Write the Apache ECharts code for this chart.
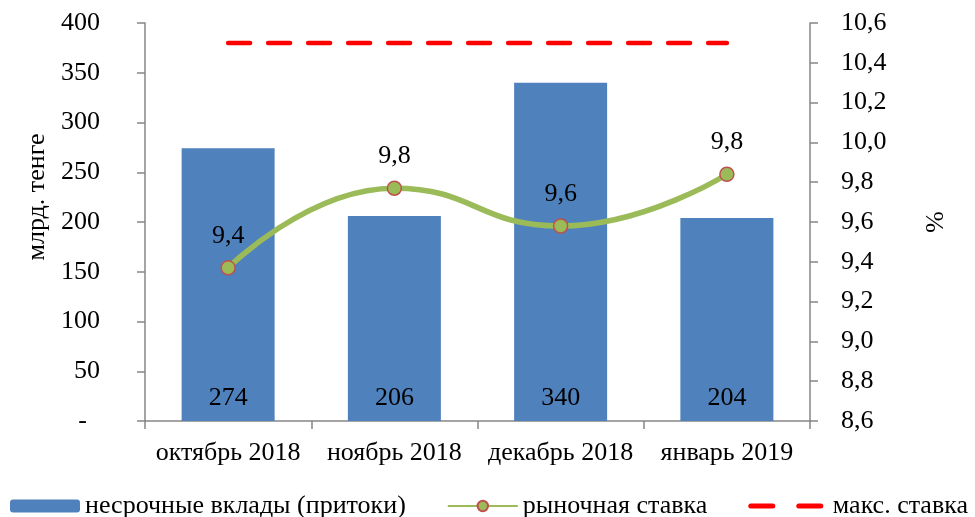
<!DOCTYPE html>
<html>
<head>
<meta charset="utf-8">
<script src="https://cdn.jsdelivr.net/npm/echarts@6/dist/echarts.min.js"></script>
<style>html,body{margin:0;padding:0;background:#fff}#c{width:975px;height:517px}</style>
</head>
<body>
<div id="c"></div>
<script>
var categories = ['октябрь 2018', 'ноябрь 2018', 'декабрь 2018', 'январь 2019'];
var deposits = [274, 206, 340, 204];
var marketRate = [9.37, 9.77, 9.58, 9.84];
var maxRate = [10.5, 10.5, 10.5, 10.5];
var seriesNames = ['несрочные вклады (притоки)', 'рыночная ставка', 'макс. ставка'];

var FONT = 'Liberation Serif';
var FS = 26;
var AX = '#868686';
var chart = echarts.init(document.getElementById('c'), null, {renderer: 'canvas'});
chart.setOption({
  animation: false,
  textStyle: {fontFamily: FONT, color: '#000'},
  grid: {left: 145, right: 165, top: 23, bottom: 96},
  legend: {
    left: 5, top: 488, width: 1400,
    itemWidth: 70, itemHeight: 13, itemGap: 41,
    textStyle: {fontFamily: FONT, fontSize: FS, color: '#000', padding: [5, 0, 0, 0]},
    data: [
      {name: seriesNames[0]},
      {name: seriesNames[1]},
      {name: seriesNames[2], itemStyle: {opacity: 0},
        lineStyle: {type: [22, 26], width: 5, cap: 'round'},
        textStyle: {padding: [5, 0, 0, 7]}}
    ]
  },
  xAxis: {
    type: 'category', data: categories,
    axisLine: {lineStyle: {color: AX, width: 1.5}},
    axisTick: {show: true, length: 8, lineStyle: {color: AX, width: 1.5}},
    axisLabel: {fontFamily: FONT, fontSize: FS, color: '#000', margin: 19, interval: 0}
  },
  yAxis: [{
    type: 'value', min: 0, max: 400, interval: 50,
    name: 'млрд. тенге', nameLocation: 'middle', nameRotate: 90, nameGap: 95,
    nameTextStyle: {fontFamily: FONT, fontSize: FS, color: '#000', padding: [0, 0, 0, 50]},
    axisLine: {show: true, lineStyle: {color: AX, width: 1.5}},
    axisTick: {show: true, length: 8, lineStyle: {color: AX, width: 1.5}},
    splitLine: {show: false},
    axisLabel: {fontFamily: FONT, fontSize: FS, color: '#000', margin: 45,
      formatter: function (v) { return v === 0 ? '-  ' : String(v); }}
  }, {
    type: 'value', min: 8.6, max: 10.6, interval: 0.2, position: 'right',
    name: '%', nameLocation: 'middle', nameRotate: -90, nameGap: 110,
    nameTextStyle: {fontFamily: FONT, fontSize: FS, color: '#000'},
    axisLine: {show: true, lineStyle: {color: AX, width: 1.5}},
    axisTick: {show: true, length: 8, lineStyle: {color: AX, width: 1.5}},
    splitLine: {show: false},
    axisLabel: {fontFamily: FONT, fontSize: FS, color: '#000', margin: 31,
      formatter: function (v) { return v.toFixed(1).replace('.', ','); }}
  }],
  series: [{
    name: seriesNames[0], type: 'bar', data: deposits, barWidth: 93,
    itemStyle: {color: '#4F81BD'},
    label: {show: true, position: 'insideBottom', distance: 10,
      fontFamily: FONT, fontSize: FS, color: '#000'}
  }, {
    name: seriesNames[1], type: 'line', yAxisIndex: 1, data: marketRate, smooth: 0.5,
    lineStyle: {color: '#9BBB59', width: 5.5},
    symbol: 'circle', symbolSize: 14,
    itemStyle: {color: '#9BBB59', borderColor: '#C0504D', borderWidth: 1.5},
    label: {show: true, position: 'top', distance: 11, fontFamily: FONT, fontSize: FS, color: '#000',
      formatter: function (p) { return p.value.toFixed(1).replace('.', ','); }},
    z: 3
  }, {
    name: seriesNames[2], type: 'line', yAxisIndex: 1, data: maxRate,
    symbol: 'none',
    lineStyle: {color: '#FF0000', width: 4.5, type: [22, 18], cap: 'round'},
    itemStyle: {color: '#FF0000'},
    z: 3
  }]
});
</script>
</body>
</html>
